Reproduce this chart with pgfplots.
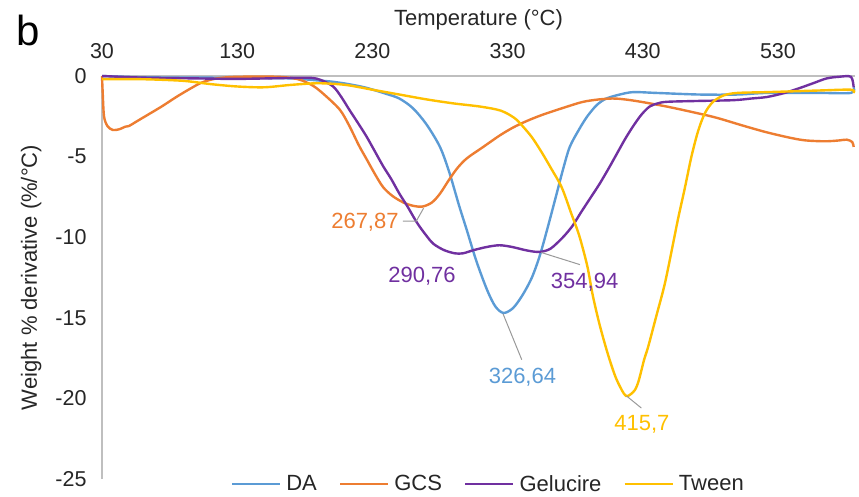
\documentclass[border=0pt]{standalone}
\usepackage{pgfplots}
\pgfplotsset{compat=1.18}
\usepackage{pgfplotstable}
\usepackage{fontspec}
\setmainfont{Liberation Sans}
\definecolor{cDA}{HTML}{5B9BD5}
\definecolor{cGCS}{HTML}{ED7D31}
\definecolor{cGel}{HTML}{7030A0}
\definecolor{cTw}{HTML}{FFC000}
\definecolor{axgray}{HTML}{BFBFBF}
\definecolor{txt}{HTML}{262626}

\pgfplotstableread{
T v
30 0
60 -0.08
100 -0.1
140 -0.12
170 -0.15
190 -0.28
200 -0.35
212 -0.5
225 -0.72
240 -1.1
250 -1.4
260 -2.0
270 -3.0
280 -4.4
287 -6.0
294 -8.0
300 -9.6
307 -11.5
315 -13.3
321 -14.3
327 -14.7
334 -14.4
341 -13.6
348 -12.5
354 -11.1
360 -9.3
366 -7.4
371 -5.8
376 -4.4
383 -3.3
389 -2.5
396 -1.8
403 -1.4
413 -1.15
423 -1.0
440 -1.05
472 -1.15
500 -1.15
522 -1.05
560 -1.05
584 -1.05
586 -0.7
}\tDA

\pgfplotstableread{
T v
30 0
30.5 -1.0
31.5 -2.5
34 -3.1
38 -3.35
43 -3.3
47 -3.15
50 -3.1
55 -2.85
63 -2.45
74 -1.9
85 -1.3
95 -0.8
104 -0.4
115 -0.15
130 -0.05
160 -0.05
175 -0.2
186 -0.6
195 -1.2
206 -2.1
213 -3.1
220 -4.3
226 -5.2
232 -6.1
238 -6.9
245 -7.45
253 -7.85
260 -8.05
267 -8.1
274 -7.85
280 -7.3
287 -6.4
293 -5.7
300 -5.1
312 -4.4
324 -3.7
334 -3.2
344 -2.8
356 -2.4
374 -1.9
386 -1.6
398 -1.45
410 -1.4
425 -1.55
448 -1.9
470 -2.3
485 -2.6
505 -3.1
522 -3.5
540 -3.85
551 -4.0
565 -4.05
575 -4.0
581 -3.95
585 -4.1
586 -4.4
}\tGCS

\pgfplotstableread{
T v
30 0
60 -0.1
100 -0.15
130 -0.18
170 -0.12
185 -0.12
192 -0.25
201 -0.65
207 -1.3
213 -2.1
220 -3.0
226 -3.8
232 -4.7
238 -5.6
244 -6.4
250 -7.3
256 -8.1
263 -9.1
269 -9.8
275 -10.4
283 -10.8
291 -11.0
297 -11.0
305 -10.8
315 -10.6
324 -10.5
333 -10.6
343 -10.8
350 -10.9
355 -10.9
362 -10.7
371 -10.0
378 -9.3
384 -8.5
391 -7.6
398 -6.7
405 -5.7
411 -4.8
417 -3.9
423 -3.1
429 -2.4
435 -1.9
441 -1.7
448 -1.6
470 -1.55
497 -1.5
510 -1.4
522 -1.3
535 -1.05
546 -0.75
556 -0.45
566 -0.15
575 -0.05
584 -0.05
586 -0.7
}\tGel

\pgfplotstableread{
T v
30 -0.2
60 -0.2
90 -0.3
110 -0.5
130 -0.65
150 -0.7
170 -0.55
190 -0.45
210 -0.55
230 -0.85
250 -1.15
270 -1.45
290 -1.7
310 -1.9
325 -2.15
335 -2.6
341 -3.1
348 -3.8
355 -4.7
362 -5.7
370 -6.9
377 -8.5
383 -9.9
389 -11.8
393 -13.6
398 -15.4
404 -17.2
410 -18.7
416 -19.7
419 -19.85
424 -19.5
427 -18.9
431 -17.6
434 -16.8
440 -14.9
446 -13.0
451 -11.0
456 -8.9
461 -7.0
466 -5.0
471 -3.4
476 -2.3
482 -1.6
490 -1.2
500 -1.05
522 -1.0
560 -0.9
584 -0.85
586 -1.05
}\tTw

\begin{document}
\begin{tikzpicture}
\begin{axis}[
  name=ax,
  scale only axis,
  width=753pt, height=403pt,
  xmin=30, xmax=587, ymin=-25, ymax=0,
  axis x line=top, axis y line=left,
  axis line style={axgray, line width=1.2pt, -},
  xtick={30,130,230,330,430,530},
  ytick={0,-5,-10,-15,-20,-25},
  major tick length=0pt,
  /pgf/number format/assume math mode=true,
  ticklabel style={font=\fontsize{21.5}{25}\selectfont, text=txt},
  xticklabel style={yshift=14pt},
  yticklabel style={xshift=-12pt},
  xlabel={Temperature (°C)},
  ylabel={Weight \% derivative (\%/°C)},
  every axis x label/.style={at={(axis description cs:0.5,1.139)}, anchor=center, font=\fontsize{22}{26}\selectfont, text=txt},
  every axis y label/.style={at={(axis description cs:-0.094,0.5)}, rotate=90, anchor=center, font=\fontsize{22}{26}\selectfont, text=txt},
  legend columns=4,
  legend style={at={(axis description cs:0.513,-0.012)}, anchor=center, draw=none, fill=none,
    font=\fontsize{22}{26}\selectfont, text=txt,
    /tikz/every odd column/.append style={column sep=3pt},
    /tikz/every even column/.append style={column sep=20pt}},
  legend image code/.code={\draw[#1, line width=2.5pt] (0pt,0pt) -- (48pt,0pt);},
  clip=false,
]
\addplot[cDA, line width=2.4pt, smooth, tension=0.5] table[x=T,y=v] {\tDA};
\addlegendentry{DA}
\addplot[cGCS, line width=2.4pt, smooth, tension=0.5] table[x=T,y=v] {\tGCS};
\addlegendentry{GCS}
\addplot[cGel, line width=2.4pt, smooth, tension=0.5] table[x=T,y=v] {\tGel};
\addlegendentry{Gelucire}
\addplot[cTw, line width=2.4pt, smooth, tension=0.5] table[x=T,y=v] {\tTw};
\addlegendentry{Tween}

% annotations
\draw[gray!80, line width=1pt] (axis cs:252.5,-9.0) -- (axis cs:262.5,-9.0) -- (axis cs:267.87,-8.2);
\node[cGCS, font=\fontsize{22}{26}\selectfont, anchor=east] at (axis cs:252,-9.1) {267,87};
\node[cGel, font=\fontsize{22}{26}\selectfont] at (axis cs:266.7,-12.4) {290,76};
\draw[gray!80, line width=1pt] (axis cs:354.94,-10.95) -- (axis cs:383.5,-11.7);
\node[cGel, font=\fontsize{22}{26}\selectfont] at (axis cs:387,-12.8) {354,94};
\draw[gray!80, line width=1pt] (axis cs:326.64,-14.75) -- (axis cs:340.5,-17.6);
\node[cDA, font=\fontsize{22}{26}\selectfont] at (axis cs:341,-18.7) {326,64};
\draw[gray!80, line width=1pt] (axis cs:418,-19.85) -- (axis cs:429,-20.6);
\node[cTw, font=\fontsize{22}{26}\selectfont] at (axis cs:429.4,-21.6) {415,7};
\end{axis}
\node[font=\fontsize{42}{46}\selectfont, text=black] at ([xshift=-74pt,yshift=46pt]ax.north west) {b};
\pgfresetboundingbox
\path[use as bounding box] ([xshift=-102pt,yshift=76pt]ax.north west) rectangle ([xshift=4pt,yshift=-17pt]ax.south east);
\end{tikzpicture}
\end{document}
